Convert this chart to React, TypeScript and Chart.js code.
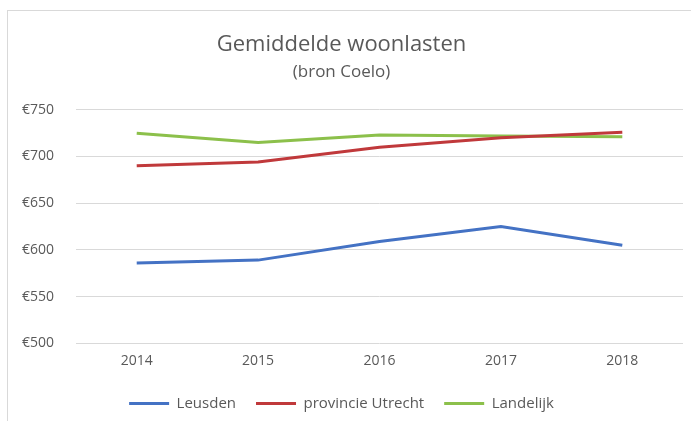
import React, { useEffect, useRef } from "react";
import { Chart, registerables } from "chart.js";

Chart.register(...registerables);

const years = ["2014", "2015", "2016", "2017", "2018"];
const leusden = [586, 589, 609, 625, 605];
const provincieUtrecht = [690, 694, 710, 720, 726];
const landelijk = [725, 715, 723, 722, 721];

const FONT = "'Open Sans', 'Liberation Sans', sans-serif";
const TEXT = "#595959";

export default function App() {
  const ref = useRef<HTMLCanvasElement | null>(null);
  useEffect(() => {
    if (!ref.current) return;
    const chart = new Chart(ref.current, {
      type: "line",
      data: {
        labels: years,
        datasets: [
          { label: "Leusden", data: leusden, borderColor: "#4472c4", backgroundColor: "#4472c4" },
          { label: "provincie Utrecht", data: provincieUtrecht, borderColor: "#c0393b", backgroundColor: "#c0393b" },
          { label: "Landelijk", data: landelijk, borderColor: "#8cc04b", backgroundColor: "#8cc04b" },
        ].map((d) => ({ ...d, borderWidth: 3, pointRadius: 0, tension: 0, fill: false })),
      },
      options: {
        animation: false,
        responsive: false,
        layout: { padding: { left: 0, right: 8, top: 0, bottom: 0 } },
        plugins: {
          title: {
            display: true,
            text: "Gemiddelde woonlasten",
            color: TEXT,
            font: { family: FONT, size: 22, weight: "normal" },
            padding: { top: 32, bottom: 4 },
          },
          subtitle: {
            display: true,
            text: "(bron Coelo)",
            color: TEXT,
            font: { family: FONT, size: 17, weight: "normal" },
            padding: { top: 0, bottom: 27 },
          },
          legend: {
            position: "bottom",
            labels: {
              usePointStyle: true,
              pointStyle: "line",
              pointStyleWidth: 40,
              color: TEXT,
              font: { family: FONT, size: 15 },
              padding: 20,
            },
          },
          tooltip: { enabled: false },
        },
        scales: {
          x: {
            offset: true,
            grid: { display: false },
            border: { display: false },
            ticks: { color: TEXT, font: { family: FONT, size: 14 }, padding: 1 },
            afterFit: (axis: any) => {
              axis.height += 6;
            },
          },
          y: {
            min: 500,
            max: 750,
            ticks: {
              stepSize: 50,
              color: TEXT,
              font: { family: FONT, size: 14 },
              padding: 22,
              callback: (v: any) => "€" + v,
            },
            grid: { color: "#d9d9d9", drawTicks: false },
            border: { display: false },
          },
        },
      },
    });
    return () => chart.destroy();
  }, []);
  return (
    <div style={{ position: "fixed", left: 0, top: 0, width: 691, height: 421, background: "#fff" }}>
      <div
        style={{
          position: "absolute",
          left: 7,
          top: 10,
          width: 700,
          height: 430,
          border: "1px solid #d9d9d9",
          boxSizing: "border-box",
        }}
      />
      <canvas ref={ref} width={691} height={421} style={{ position: "absolute", left: 0, top: 0 }} />
    </div>
  );
}
